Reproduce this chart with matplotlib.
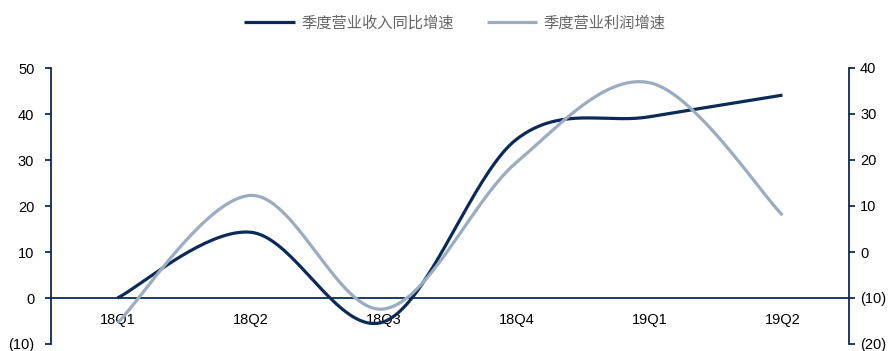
import matplotlib.pyplot as plt
import numpy as np

plt.rcParams['font.family'] = ['Liberation Sans', 'DejaVu Sans']

quarters = ['18Q1', '18Q2', '18Q3', '18Q4', '19Q1', '19Q2']
revenue_growth = [0.0, 14.3, -5.2, 34.5, 39.4, 44.1]     # 左轴
profit_growth = [-15.4, 12.3, -12.4, 19.5, 36.8, 8.0]     # 右轴

navy = '#0c2a57'
grey = '#9aacbf'


def smooth(y, n=40):
    # Excel风格平滑线: 三次贝塞尔, 控制点取相邻点差的1/6
    y = np.asarray(y, dtype=float)
    x = np.arange(len(y), dtype=float)
    pts = np.column_stack([x, y])
    out = []
    for i in range(len(pts) - 1):
        p0 = pts[max(i - 1, 0)]
        p1 = pts[i]
        p2 = pts[i + 1]
        p3 = pts[min(i + 2, len(pts) - 1)]
        c1 = p1 + (p2 - p0) / 6
        c2 = p2 - (p3 - p1) / 6
        t = np.linspace(0, 1, n)[:, None]
        seg = (1 - t) ** 3 * p1 + 3 * (1 - t) ** 2 * t * c1 + 3 * (1 - t) * t ** 2 * c2 + t ** 3 * p2
        out.append(seg if i == 0 else seg[1:])
    out = np.vstack(out)
    return out[:, 0], out[:, 1]


fig = plt.figure(figsize=(8.88, 3.51), dpi=100)
ax = fig.add_axes([51 / 888, 7 / 351, 798 / 888, 276 / 351])
ax2 = ax.twinx()

ax.set_xlim(-0.5, 5.5)
ax.set_ylim(-10, 50)
ax2.set_ylim(-20, 40)
ax.set_yticks(range(-10, 51, 10))
ax2.set_yticks(range(-20, 41, 10))
fmt = lambda v: '(%d)' % -v if v < 0 else '%d' % v
ax.set_yticklabels([fmt(v) for v in range(-10, 51, 10)])
ax2.set_yticklabels([fmt(v) for v in range(-20, 41, 10)])

for a in (ax, ax2):
    for s in ('top', 'bottom'):
        a.spines[s].set_visible(False)
    a.spines['left'].set_color(navy)
    a.spines['right'].set_color(navy)
    a.spines['left'].set_linewidth(1.3)
    a.spines['right'].set_linewidth(1.3)
    a.tick_params(axis='y', colors=navy, labelcolor='black', length=4, width=1.3,
                  labelsize=10.5, pad=8)
    a.set_xticks([])
ax.spines['right'].set_visible(False)
ax2.spines['left'].set_visible(False)
ax2.tick_params(axis='y', pad=4)

ax.axhline(0, color=navy, lw=1.3, zorder=1)
for i, q in enumerate(quarters):
    ax.annotate(q, (i, 0), xytext=(0, -16), textcoords='offset points',
                ha='center', va='center', fontsize=10.5)

xs, ys = smooth(revenue_growth)
l1, = ax.plot(xs, ys, color=navy, lw=2.3, solid_capstyle='butt', zorder=3,
              label='季度营业收入同比增速')
xs, ys = smooth(profit_growth)
l2, = ax2.plot(xs, ys, color=grey, lw=2.3, solid_capstyle='butt', zorder=2,
               label='季度营业利润增速')

fig.legend(handles=[l1, l2], loc='center', bbox_to_anchor=(455 / 888, 1 - 23 / 351),
           ncol=2, frameon=False, handlelength=3.3, handletextpad=0.4,
           columnspacing=2.2, prop={'family': ['Noto Sans CJK SC', 'DejaVu Sans'], 'size': 11},
           labelcolor='#666666')

fig.savefig('out.png', dpi=100)
